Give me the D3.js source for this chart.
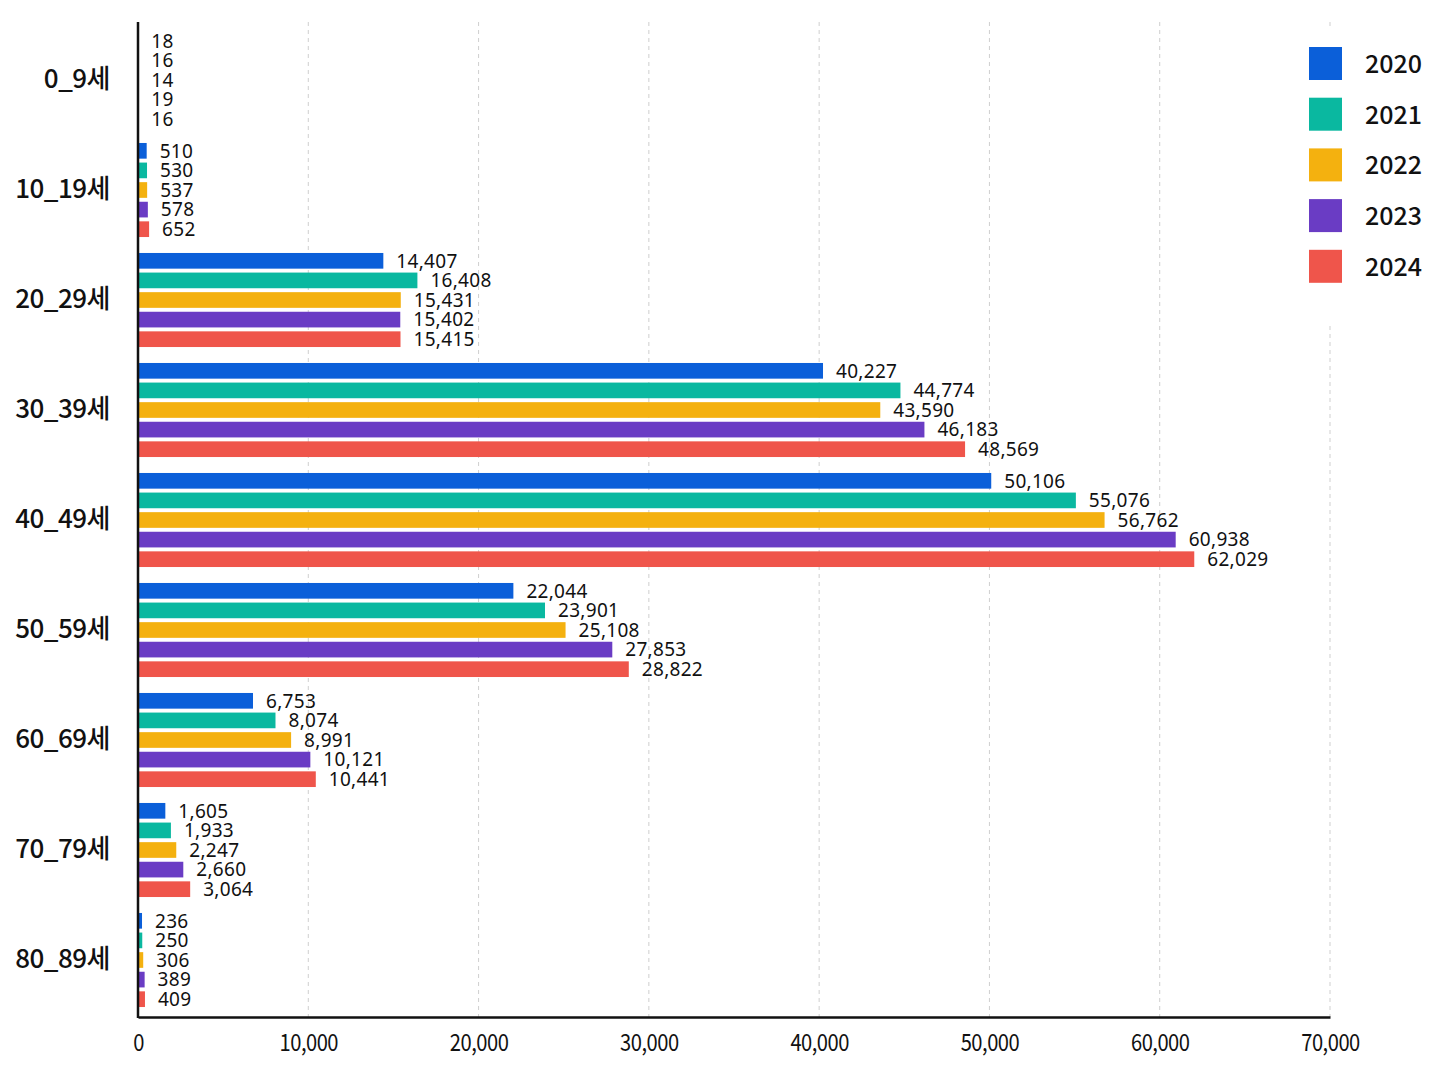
<!DOCTYPE html>
<html>
<head>
<meta charset="utf-8">
<script src="https://cdn.jsdelivr.net/npm/d3@7"></script>
<style>
  body { margin: 0; background: #fff; }
  svg text { font-family: "Noto Sans CJK KR", "Noto Sans", sans-serif; fill: #111; }
</style>
</head>
<body>
<div id="vis_container"></div>
<script>
// age groups and yearly counts
var ages = ["0_9세", "10_19세", "20_29세", "30_39세", "40_49세", "50_59세", "60_69세", "70_79세", "80_89세"];
var years = ["2020", "2021", "2022", "2023", "2024"];
var v2020 = [18, 510, 14407, 40227, 50106, 22044, 6753, 1605, 236];
var v2021 = [16, 530, 16408, 44774, 55076, 23901, 8074, 1933, 250];
var v2022 = [14, 537, 15431, 43590, 56762, 25108, 8991, 2247, 306];
var v2023 = [19, 578, 15402, 46183, 60938, 27853, 10121, 2660, 389];
var v2024 = [16, 652, 15415, 48569, 62029, 28822, 10441, 3064, 409];
var xTicks = [0, 10000, 20000, 30000, 40000, 50000, 60000, 70000];
var colors = ["#0b5fd9", "#0ab8a0", "#f4b10f", "#6a3cc4", "#ef554b"];

var series = [v2020, v2021, v2022, v2023, v2024];
var rows = ages.map(function(a, i) {
    return { age: a, vals: years.map(function(y, j) { return { year: y, value: series[j][i] }; }) };
});

var width = 1448, height = 1086;

var x = d3.scaleLinear()
    .domain([0, 70000])
    .range([138, 1330]);

var y0 = d3.scaleBand()
    .domain(ages)
    .range([20, 1020])
    .paddingInner(0.145)
    .paddingOuter(0.118);

var y1 = d3.scaleBand()
    .domain(years)
    .range([0, y0.bandwidth()])
    .paddingInner(0.2);

var color = d3.scaleOrdinal().domain(years).range(colors);
var fmt = d3.format(",");

var svg = d3.select("#vis_container")
    .append("svg")
    .attr("width", width)
    .attr("height", height);

// dashed grid
svg.append("g")
    .selectAll("line")
    .data(xTicks.slice(1))
    .enter().append("line")
    .attr("x1", function(d) { return x(d); })
    .attr("x2", function(d) { return x(d); })
    .attr("y1", 22)
    .attr("y2", 1017)
    .style("stroke", "#cfcfcf")
    .style("stroke-width", 1)
    .style("stroke-dasharray", "4,4");

// bars
var groups = svg.append("g")
    .selectAll("g")
    .data(rows)
    .enter().append("g")
    .attr("transform", function(d) { return "translate(0," + y0(d.age) + ")"; });

groups.selectAll("rect")
    .data(function(d) { return d.vals; })
    .enter().append("rect")
    .attr("x", x(0))
    .attr("y", function(d) { return y1(d.year); })
    .attr("width", function(d) { return x(d.value) - x(0); })
    .attr("height", y1.bandwidth())
    .style("fill", function(d) { return color(d.year); });

groups.selectAll("text")
    .data(function(d) { return d.vals; })
    .enter().append("text")
    .attr("x", function(d) { return x(d.value) + 13; })
    .attr("y", function(d) { return y1(d.year) + y1.bandwidth() / 2; })
    .attr("dy", "0.36em")
    .style("font-family", "'Noto Sans', sans-serif")
    .style("font-size", "19px")
    .style("letter-spacing", "0.3px")
    .text(function(d) { return fmt(d.value); });

// x axis
var xAxis = svg.append("g")
    .attr("transform", "translate(0,1017)")
    .call(d3.axisBottom(x).tickValues(xTicks).tickFormat(fmt).tickSize(0).tickPadding(17));
xAxis.select(".domain").style("stroke", "#111").style("stroke-width", 2.5);
xAxis.selectAll("text")
    .attr("transform", "scale(0.84,1)")
    .style("font-size", "24px")
    .style("letter-spacing", "-0.6px")
    .style("fill", "#111");

// y axis
var yAxis = svg.append("g")
    .attr("transform", "translate(138,0)")
    .call(d3.axisLeft(y0).tickSize(0).tickPadding(28));
yAxis.select(".domain")
    .attr("d", "M0,22V1018")
    .style("stroke", "#111").style("stroke-width", 2.5);
yAxis.selectAll("text")
    .style("font-size", "26px")
    .style("font-weight", 500)
    .style("letter-spacing", "-0.5px")
    .style("fill", "#111");

// legend
var legend = svg.append("g").attr("transform", "translate(1290,30)");
legend.append("rect")
    .attr("width", 150).attr("height", 295)
    .style("fill", "#fff");
var items = legend.selectAll("g.item")
    .data(years)
    .enter().append("g")
    .attr("class", "item")
    .attr("transform", function(d, i) { return "translate(19," + (17 + i * 50.7) + ")"; });
items.append("rect")
    .attr("width", 33).attr("height", 33)
    .style("fill", function(d) { return color(d); });
items.append("text")
    .attr("x", 56).attr("y", 17)
    .attr("dy", "0.36em")
    .style("font-size", "25px")
    .style("font-weight", 500)
    .text(function(d) { return d; });
</script>
</body>
</html>
